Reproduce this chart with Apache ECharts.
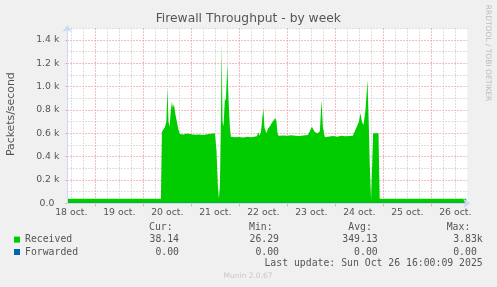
<!DOCTYPE html>
<html><head><meta charset="utf-8">
<script src="https://cdn.jsdelivr.net/npm/echarts@6/dist/echarts.min.js"></script>
<style>html,body{margin:0;padding:0;background:#f0f0f0;}#c{width:497px;height:287px;}</style>
</head><body><div id="c"></div>
<script>
// ---- data (x = hours since 18 oct 00:00) ----
const dayLabels = ['18 oct.','19 oct.','20 oct.','21 oct.','22 oct.','23 oct.','24 oct.','25 oct.','26 oct.'];
const noonHours = [12,36,60,84,108,132,156,180,204];
const midnightHours = [24,48,72,96,120,144,168,192];
const minorHours = [12,18,30,36,42,54,60,66,78,84,90,102,108,114,126,132,138,150,156,162,174,180,186,198,204];
const yMajorTicks = [0,200,400,600,800,1000,1200,1400];
const yMinorTicks = [100,300,500,700,900,1100,1300,1500];
const yTickLabels = ['0.0','0.2 k','0.4 k','0.6 k','0.8 k','1.0 k','1.2 k','1.4 k'];

const receivedHours = [10.0,10.6,11.2,56.8,57.3,58.1,58.8,59.5,60.1,60.6,61.1,61.8,62.3,62.8,63.3,64.1,64.8,65.6,66.3,68,70,72,74,76,78,80,82,83.8,84.6,85.3,85.8,86.3,86.8,87.2,87.6,88.1,88.8,89.3,90.0,90.6,91.3,91.8,94,96,98,100,102,104.8,105.5,106.1,106.8,107.6,108.0,108.6,109.6,110.3,111.3,112.3,113.3,114.1,114.6,115.1,115.6,118,120,122,124,126,128,130.3,131.3,132.3,133.1,133.8,135.3,136.3,137.1,137.8,138.8,141,143,145,147,149,151,152.8,153.8,154.8,155.8,156.6,157.3,158.1,159.1,160.1,160.7,161.3,161.9,162.4,162.9,165.6,166.2,209.5];
const receivedValues = [38,52,38,38,614,630,652,700,985,700,656,800,870,820,850,760,700,630,595,590,598,592,588,590,586,592,596,600,450,150,40,150,700,1370,700,660,900,880,1185,900,650,570,566,568,565,570,566,575,609,580,610,620,814,650,600,640,660,690,700,731,700,600,580,582,578,584,580,576,582,585,620,657,630,610,600,620,884,650,566,572,576,570,578,574,576,580,620,637,700,771,700,671,800,1057,700,300,28,28,600,600,38,38];
const forwardedHours = [10.0, 209.5];
const forwardedValues = [0, 0];

const statHeaders = ['Cur:','Min:','Avg:','Max:'];
const receivedStats = ['38.14','26.29','349.13','3.83k'];
const forwardedStats = ['0.00','0.00','0.00','0.00 '];

const zip = (xs, ys) => xs.map((x, i) => [x, ys[i]]);

const FONT = 'DejaVu Sans';
const MONO = 'DejaVu Sans Mono';
const TXT = '#555';
const AXIS = '#cfd6f8';
const RED = '#f0a8a8';
const GRAY = '#d4d4d4';
const DASH = [1.5, 1.5];

const chart = echarts.init(document.getElementById('c'), null, {renderer: 'canvas'});

const headerX = [149, 249, 348.3, 446.7];
const valueRight = [179, 279, 377.7, 482.7];
const graphics = [];
const txt = (x, y, t, font, fill, align, rot) => ({type:'text', x, y, rotation: rot || 0,
  style:{text:t, font, fill, align, verticalAlign:'middle', textAlign:align, textVerticalAlign:'middle'}});
statHeaders.forEach((t, i) => graphics.push(txt(headerX[i], 227.7, t, '9.8px "'+MONO+'"', TXT, 'left')));
receivedStats.forEach((t, i) => graphics.push(txt(valueRight[i], 239.6, t, '9.8px "'+MONO+'"', TXT, 'right')));
forwardedStats.forEach((t, i) => graphics.push(txt(valueRight[i], 252, t, '9.8px "'+MONO+'"', TXT, 'right')));
graphics.push(txt(482.7, 263.3, 'Last update: Sun Oct 26 16:00:09 2025', '9.8px "'+MONO+'"', TXT, 'right'));
graphics.push(txt(248, 276.3, 'Munin 2.0.67', '7.5px "'+FONT+'"', '#c8c8c8', 'center'));
graphics.push(txt(248.3, 19.3, 'Firewall Throughput - by week', '12.3px "'+FONT+'"', TXT, 'center'));
graphics.push(txt(10.8, 114.2, 'Packets/second', '10.9px "'+FONT+'"', TXT, 'center', Math.PI/2));
graphics.push(txt(487.7, 53, 'RRDTOOL / TOBI OETIKER', '7.5px "'+FONT+'"', '#bbbbbb', 'center', -Math.PI/2));

const XMIN = 10, XMAX = 210, YMIN = 0, YMAX = 1500;

chart.setOption({
  animation: false,
  backgroundColor: '#f0f0f0',
  grid: {left: 67.3, top: 28.3, width: 400, height: 175, show: true, backgroundColor: '#ffffff', borderWidth: 0},
  legend: {
    orient: 'vertical', left: 14, top: 233.6, padding: 0, icon: 'rect', itemWidth: 6, itemHeight: 6, itemGap: 0.4,
    selectedMode: false,
    textStyle: {fontFamily: MONO, fontSize: 9.8, color: TXT, lineHeight: 12},
    data: ['Received', 'Forwarded']
  },
  xAxis: [
    {type: 'value', min: XMIN, max: XMAX, position: 'bottom',
     axisLine: {show: false},
     axisTick: {show: true, customValues: midnightHours, length: 3, lineStyle: {color: RED}},
     axisLabel: {customValues: noonHours, margin: 5, fontFamily: FONT, fontSize: 9.3, color: TXT,
       formatter: v => dayLabels[Math.round((v - 12) / 24)]},
     splitLine: {show: true, lineStyle: {color: RED, type: DASH}}},
    {type: 'value', min: XMIN, max: XMAX, position: 'top',
     axisLine: {show: false}, axisLabel: {show: false},
     axisTick: {show: false, customValues: minorHours},
     splitLine: {show: true, lineStyle: {color: GRAY, type: DASH}}},
    {type: 'value', min: XMIN, max: XMAX, position: 'bottom', z: 10,
     axisLine: {show: true, lineStyle: {color: AXIS, width: 1}, symbol: ['none', 'arrow'], symbolSize: [7, 7], symbolOffset: [0, 3]},
     axisTick: {show: false}, axisLabel: {show: false}, splitLine: {show: false}}
  ],
  yAxis: [
    {type: 'value', min: YMIN, max: YMAX, position: 'left',
     axisLine: {show: false},
     axisTick: {show: true, customValues: yMajorTicks, length: 2, lineStyle: {color: RED}},
     axisLabel: {customValues: yMajorTicks, margin: 8, fontFamily: FONT, fontSize: 9.3, color: TXT,
       formatter: v => { const l = yTickLabels[Math.round(v / 200)]; return v === 0 ? '{p|' + l + '}' : l; },
       rich: {p: {fontFamily: FONT, fontSize: 9.3, color: TXT, padding: [0, 5, 0, 0]}}},
     splitLine: {show: true, lineStyle: {color: RED, type: DASH}}},
    {type: 'value', min: YMIN, max: YMAX, position: 'right',
     axisLine: {show: false}, axisLabel: {show: false},
     axisTick: {show: false, customValues: yMinorTicks},
     splitLine: {show: true, lineStyle: {color: GRAY, type: DASH}}},
    {type: 'value', min: YMIN, max: YMAX, position: 'left', z: 10,
     axisLine: {show: true, lineStyle: {color: AXIS, width: 1}, symbol: ['none', 'arrow'], symbolSize: [7, 7], symbolOffset: [0, 3.3]},
     axisTick: {show: false}, axisLabel: {show: false}, splitLine: {show: false}}
  ],
  series: [
    {name: 'Received', type: 'line', xAxisIndex: 0, yAxisIndex: 0, data: zip(receivedHours, receivedValues),
     showSymbol: false, symbol: 'none', color: '#00cc00',
     lineStyle: {width: 0}, areaStyle: {color: '#00cc00', opacity: 1}, z: 2},
    {name: 'Forwarded', type: 'line', xAxisIndex: 0, yAxisIndex: 0, data: zip(forwardedHours, forwardedValues),
     showSymbol: false, symbol: 'none', color: '#0066b3',
     lineStyle: {width: 1, color: '#0066b3'}, z: 3}
  ],
  graphic: graphics
});
</script></body></html>
